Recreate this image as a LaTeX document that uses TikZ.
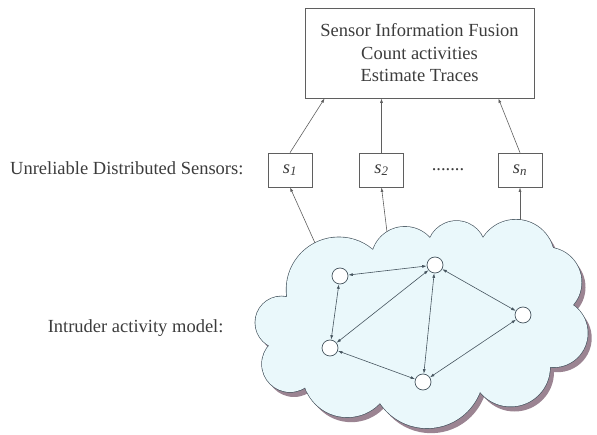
\documentclass[tikz,border=0pt]{standalone}
\usepackage{fontspec}
\setmainfont{Liberation Serif}
\usetikzlibrary{arrows.meta}

\definecolor{inkgray}{RGB}{60,60,60}
\definecolor{linegray}{RGB}{95,95,95}
\definecolor{cloudline}{RGB}{70,85,95}
\definecolor{cloudfill}{RGB}{234,248,251}
\definecolor{cloudshade}{RGB}{155,132,146}

% puffs of the cloud: x/y/radius
\newcommand{\cloudpuffs}{338.8/289.6/52.3, 404.9/260.3/33.5, 456.5/250.2/29.2, 515.8/258.3/38.6, 546.7/282.2/34.8, 553.6/333.1/34.1, 510.6/367.1/39.4, 427.1/371.5/56.7, 347.3/372.4/44.8, 290/364/28, 281.5/322.6/26.2}

\tikzset{
  txt/.style={text=inkgray, font=\fontsize{18.5}{22.5}\selectfont},
  fusionbox/.style={txt, draw=linegray, line width=0.7pt, align=center,
    minimum width=229pt, minimum height=90pt, inner sep=0pt},
  sensor/.style={txt, draw=linegray, line width=0.7pt,
    minimum width=44pt, minimum height=34pt, inner sep=0pt},
  state/.style={circle, draw=cloudline, fill=white, line width=0.7pt,
    minimum size=16pt, inner sep=0pt},
  feed/.style={->, draw=linegray, line width=0.6pt},
  link/.style={<->, draw=cloudline, line width=0.6pt},
}

\begin{document}
\begin{tikzpicture}[x=1pt, y=-1pt, >={Latex[length=4.5pt,width=3pt]}]
  \useasboundingbox (0,0) rectangle (597,435);

  % cloud: shadow, outline, fill
  \begin{scope}[shift={(4,5)}]
    \fill[cloudshade] \foreach \x/\y/\r in \cloudpuffs {(\x,\y) circle[radius=\r pt]};
    \fill[cloudshade] (287,297) -- (373,250) -- (430,238) -- (483,238) -- (553,248) -- (573,305)
      -- (550,367) -- (480,392) -- (380,403) -- (307,392) -- (291,347) -- cycle;
  \end{scope}
  \draw[cloudline, line width=1.3pt] \foreach \x/\y/\r in \cloudpuffs {(\x,\y) circle[radius=\r pt]};
  \fill[cloudfill] \foreach \x/\y/\r in \cloudpuffs {(\x,\y) circle[radius=\r pt]};
  \fill[cloudfill] (287,297) -- (373,250) -- (430,238) -- (483,238) -- (553,248) -- (573,305)
    -- (550,367) -- (480,392) -- (380,403) -- (307,392) -- (291,347) -- cycle;

  \node [fusionbox] (fusion) at (419.5,53) {Sensor Information Fusion\\Count activities\\Estimate Traces};

  \node [sensor] (s1) at (290,170) {\itshape s\textsubscript{1}};
  \node [sensor] (s2) at (381.5,170) {\itshape s\textsubscript{2}};
  \node [sensor] (sn) at (520,170) {\itshape s\textsubscript{n}};
  \node [txt] (dots) at (448,170) {.......};

  \node [txt, anchor=base east] (sensorlabel) at (247,175) {Unreliable Distributed Sensors:};
  \node [txt, anchor=base east] (modellabel) at (227,333) {Intruder activity model:};

  \coordinate (f1) at ([xshift=20pt]fusion.south west);
  \coordinate (f2) at (s2.north |- fusion.south);
  \coordinate (fn) at ([xshift=-36pt]fusion.south east);
  \draw[feed] (s1.north) -- (f1);
  \draw[feed] (s2.north) -- (f2);
  \draw[feed] (sn.north) -- (fn);

  \coordinate (c1) at (315,243);
  \coordinate (c2) at (387,232);
  \coordinate (cn) at (520,220);
  \draw[feed] (c1) -- (s1.south);
  \draw[feed] (c2) -- (s2.south);
  \draw[feed] (cn) -- (sn.south);

  % intruder activity graph
  \node [state] (a) at (340,276) {};
  \node [state] (b) at (435,265) {};
  \node [state] (c) at (523,315) {};
  \node [state] (d) at (330,348) {};
  \node [state] (e) at (423,382) {};

  \draw[link] (a) -- (b);
  \draw[link] (a) -- (d);
  \draw[link] (d) -- (b);
  \draw[link] (b) -- (e);
  \draw[link] (b) -- (c);
  \draw[link] (c) -- (e);
  \draw[link] (d) -- (e);
\end{tikzpicture}
\end{document}
